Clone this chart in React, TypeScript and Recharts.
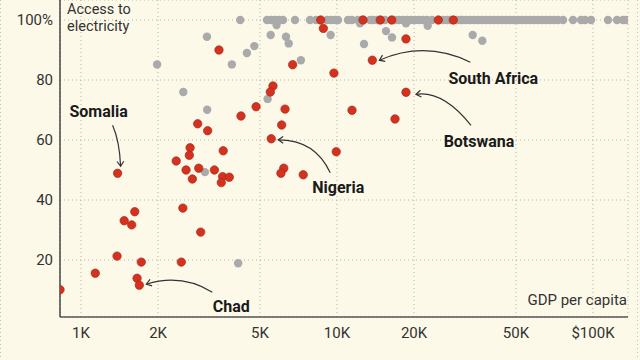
import React from "react";
import { CartesianGrid, ReferenceDot, Scatter, ScatterChart, XAxis, YAxis } from "recharts";

// African countries (red)
const africaGdp = [
  828, 1137, 1383, 1720, 1656, 1690, 2465, 1622, 1475, 1578, 2500, 2935, 1390, 2857, 3125, 4217, 4830, 5536,
  6711, 9728, 13740, 5623, 5489, 6266, 11446, 18600, 16852, 6081, 9933, 6196, 6040, 7381, 2668, 2650, 2355,
  3594, 2573, 2884, 3320, 2723, 3574, 3795, 3532, 3459, 8844, 18600, 8638, 12640, 14760, 16360, 24870, 28470,
];
const africaAccess = [
  10.1, 15.6, 21.3, 19.3, 13.9, 11.6, 19.3, 36.1, 33.1, 31.7, 37.3, 29.3, 48.9, 65.4, 63.1, 68, 71.1, 60.4,
  85.1, 82.3, 86.6, 78, 76, 70.3, 69.9, 75.9, 67, 65, 56.1, 50.6, 48.9, 48.4, 57.4, 54.9, 53, 56.4, 50, 50.6,
  50, 47, 47.8, 47.6, 45.8, 90, 97.2, 93.7, 100, 100, 100, 100, 100, 100,
];

// rest of the world (grey)
const otherGdp = [
  1983, 2510, 3111, 3048, 4111, 3105, 3884, 4447, 4755, 4188, 5508, 5358, 7227, 6321, 6477, 5808, 9440, 12300,
  18600, 22610, 12750, 15540, 16400, 33890, 36950,
];
const otherAccess = [
  85.2, 76, 70.1, 49.3, 18.9, 94.4, 85.2, 89, 91.3, 100, 95, 73.7, 86.6, 94.4, 92.2, 98.3, 95, 98.9, 98.9, 98.1,
  92, 96.3, 94.2, 95, 93.1,
];
// grey countries with full access
const fullAccessGdp = [
  5330, 5525, 5727, 5934, 6152, 6854, 7846, 8276, 9141, 9475, 9822, 10090, 11040, 11440, 12080, 12520, 13460,
  13820, 14330, 15400, 16850, 17470, 18110, 18770, 19460, 20170, 20910, 21680, 22470, 23500, 25950, 26900,
  27640, 29430, 30230, 30780, 31910, 33080, 34290, 35550, 36850, 38200, 39600, 41050, 42560, 44110, 45730,
  47410, 49140, 50940, 52810, 54750, 56750, 58840, 60990, 63220, 65540, 67940, 70430, 73020, 76370, 83540,
  89780, 93080, 98220, 114400, 124100, 131000, 134600,
];

const xTicks = [1000, 2000, 5000, 10000, 20000, 50000, 100000];
const xTickLabels = ["1K", "2K", "5K", "10K", "20K", "50K", "$100K"];
const yTicks = [20, 40, 60, 80, 100];
const yTickLabels = ["20", "40", "60", "80", "100%"];

// labelled countries: index into the africa arrays
const noteNames = ["Somalia", "Chad", "Nigeria", "South Africa", "Botswana"];
const noteIndex = [12, 5, 17, 20, 25];

// label / arrow layout, offsets from the dot in px
const noteLayout: Record<string, { lx: number; ly: number; p: number[] }> = {
  Somalia: { lx: -19, ly: -62, p: [-5, -48, 2, -32, 3, -7] },
  Chad: { lx: 92, ly: 21, p: [73, 7, 42, -12, 7, -1] },
  Nigeria: { lx: 67, ly: 48, p: [59, 34, 44, 1, 7, 1] },
  "South Africa": { lx: 121, ly: 18, p: [98, 2, 53, -20, 7, 0] },
  Botswana: { lx: 73, ly: 49, p: [65, 33, 37, -2, 10, 2] },
};

const BG = "#fcf9e9";
const RED = "#d5311f";
const GREY = "#aaaaaa";
const INK = "#333333";
const FONT = "Roboto, sans-serif";

const africaData = africaGdp.map((g, i) => ({ gdp: g, access: africaAccess[i] }));
const otherData = [
  ...otherGdp.map((g, i) => ({ gdp: g, access: otherAccess[i] })),
  ...fullAccessGdp.map((g) => ({ gdp: g, access: 100 })),
];

const RedDot = (props: any) => (
  <circle cx={props.cx} cy={props.cy} r={4.2} fill={RED} stroke="#a9261a" strokeWidth={0.7} />
);
const GreyDot = (props: any) => <circle cx={props.cx} cy={props.cy} r={4.2} fill={GREY} />;

const makeNote = (name: string) => (props: any) => {
  const { cx, cy } = props;
  if (cx == null || cy == null) return null;
  const l = noteLayout[name];
  const [sx, sy, qx, qy, ex, ey] = l.p;
  const x1 = cx + sx, y1 = cy + sy, x2 = cx + qx, y2 = cy + qy, x3 = cx + ex, y3 = cy + ey;
  const a = Math.atan2(y3 - y2, x3 - x2);
  const h = 6;
  const head = `M${x3 - h * Math.cos(a - 0.6)},${y3 - h * Math.sin(a - 0.6)} L${x3},${y3} L${
    x3 - h * Math.cos(a + 0.6)
  },${y3 - h * Math.sin(a + 0.6)}`;
  return (
    <g>
      <path d={`M${x1},${y1} Q${x2},${y2} ${x3},${y3}`} fill="none" stroke={INK} strokeWidth={1.2} />
      <path d={head} fill="none" stroke={INK} strokeWidth={1.2} />
      <text
        x={cx + l.lx}
        y={cy + l.ly}
        dy="0.36em"
        textAnchor="middle"
        fontFamily={FONT}
        fontWeight={700}
        fontSize={16}
        fill="#1a1a1a"
      >
        {name}
      </text>
    </g>
  );
};

const App: React.FC = () => {
  return (
    <div
      style={{ position: "absolute", left: 0, top: 0, width: 640, height: 360, background: BG, overflow: "hidden" }}
    >
      <ScatterChart width={640} height={360} margin={{ top: 0, right: 12, bottom: 0, left: 0 }}>
        <CartesianGrid stroke="#b8b4a6" strokeDasharray="1 3" />
        <XAxis
          dataKey="gdp"
          type="number"
          scale="log"
          domain={[828, 137000]}
          allowDataOverflow
          ticks={xTicks}
          tickFormatter={(v) => xTickLabels[xTicks.indexOf(v)] ?? ""}
          height={43}
          axisLine={{ stroke: "#555", strokeWidth: 1.5 }}
          tickLine={false}
          tickSize={0}
          tickMargin={10}
          tick={{ fill: INK, fontSize: 15, fontFamily: FONT }}
        />
        <YAxis
          dataKey="access"
          type="number"
          domain={[1, 106.67]}
          allowDataOverflow
          ticks={yTicks}
          tickFormatter={(v) => yTickLabels[yTicks.indexOf(v)] ?? ""}
          width={60}
          axisLine={{ stroke: "#444", strokeWidth: 1.5 }}
          tickLine={false}
          tickSize={0}
          tickMargin={7}
          tick={{ fill: INK, fontSize: 15, fontFamily: FONT }}
        />
        <Scatter data={otherData} shape={GreyDot} isAnimationActive={false} />
        <Scatter data={africaData} shape={RedDot} isAnimationActive={false} />
        {noteNames.map((n, i) => (
          <ReferenceDot
            key={n}
            x={africaGdp[noteIndex[i]]}
            y={africaAccess[noteIndex[i]]}
            r={0}
            ifOverflow="visible"
            shape={makeNote(n)}
          />
        ))}
      </ScatterChart>
      <svg width={640} height={360} style={{ position: "absolute", left: 0, top: 0, pointerEvents: "none" }}>
        <text x={67} y={14} fontFamily={FONT} fontSize={14.5} fill={INK}>
          Access to
        </text>
        <text x={67} y={31} fontFamily={FONT} fontSize={14.5} fill={INK}>
          electricity
        </text>
        <text x={627} y={305} textAnchor="end" fontFamily={FONT} fontSize={15} fill={INK}>
          GDP per capita
        </text>
        <line x1={0.5} y1={0} x2={0.5} y2={360} stroke="#c4c0b2" strokeDasharray="1 3" />
        <line x1={637.5} y1={0} x2={637.5} y2={360} stroke="#c4c0b2" strokeDasharray="1 3" />
      </svg>
    </div>
  );
};

export default App;
